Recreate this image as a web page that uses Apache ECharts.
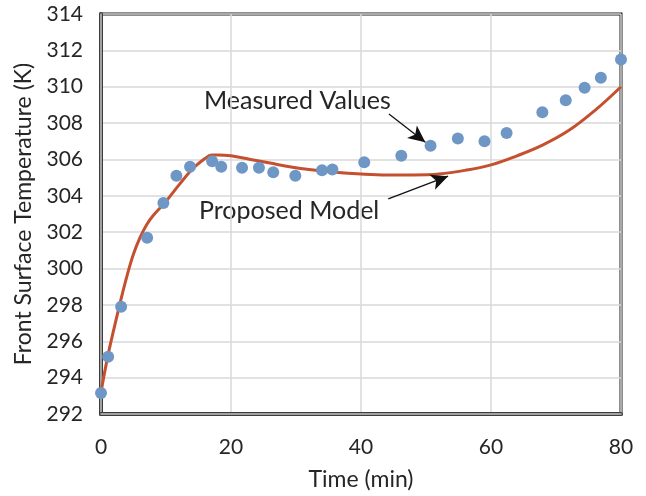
<!DOCTYPE html>
<html>
<head>
<meta charset="utf-8">
<script src="https://cdn.jsdelivr.net/npm/echarts@6/dist/echarts.min.js"></script>
<style>
  html, body { margin: 0; padding: 0; background: #fff; }
  #chart { width: 646px; height: 496px; }
</style>
</head>
<body>
<div id="chart"></div>
<script>
// Measured front-surface temperature (time in min, temperature in K)
const measuredTime = [0, 1.1, 3.1, 7.1, 9.6, 11.6, 13.7, 17.1, 18.5, 21.7, 24.3, 26.5, 29.9, 34.0, 35.6, 40.5, 46.2, 50.7, 54.9, 59.0, 62.4, 67.9, 71.5, 74.4, 76.9, 80];
const measuredTemp = [293.15, 295.15, 297.9, 301.7, 303.6, 305.1, 305.6, 305.9, 305.6, 305.55, 305.55, 305.3, 305.1, 305.4, 305.45, 305.85, 306.2, 306.75, 307.15, 307.0, 307.45, 308.6, 309.25, 309.95, 310.5, 311.5];

// Proposed model curve
const modelTime = [0, 1, 2, 3, 4, 5, 6, 7, 8, 10, 12, 14, 16, 17, 18, 20, 23, 26, 29, 32, 36, 40, 44, 48, 52, 56, 60, 64, 68, 72, 76, 80];
const modelTemp = [293.2, 295.1, 296.7, 298.2, 299.6, 300.8, 301.7, 302.4, 302.9, 303.7, 304.6, 305.45, 306.05, 306.25, 306.25, 306.2, 306.0, 305.8, 305.6, 305.45, 305.3, 305.2, 305.15, 305.15, 305.2, 305.4, 305.7, 306.2, 306.8, 307.6, 308.7, 310.0];

// Axis ticks
const xTicks = [0, 20, 40, 60, 80];
const yTicks = [292, 294, 296, 298, 300, 302, 304, 306, 308, 310, 312, 314];

// Callout arrows: [start, end] in data coordinates
const measuredArrow = [[44.3, 308.5], [49.9, 306.95]];
const modelArrow = [[44.2, 303.83], [53.4, 305.08]];

const FONT = 'Lato, "Open Sans", sans-serif';
const TXT = '#262626';

const chart = echarts.init(document.getElementById('chart'), null, { renderer: 'canvas' });

const xBase = {
  type: 'value', min: xTicks[0], max: xTicks[xTicks.length - 1], interval: 20,
  gridIndex: 0
};
const yBase = {
  type: 'value', min: yTicks[0], max: yTicks[yTicks.length - 1], interval: 2,
  gridIndex: 0
};

chart.setOption({
  animation: false,
  textStyle: { fontFamily: FONT },
  grid: {
    left: 101, top: 14, right: 25, bottom: 82,
    show: true, borderColor: '#1e1e1e', borderWidth: 3, backgroundColor: 'transparent'
  },
  xAxis: [
    Object.assign({}, xBase, {
      name: 'Time (min)', nameLocation: 'middle', nameGap: 54,
      nameTextStyle: { fontFamily: FONT, fontSize: 23, color: TXT },
      axisLine: { show: true, onZero: false, lineStyle: { color: '#3c3c3c', width: 4 } },
      axisTick: { show: false },
      axisLabel: { fontFamily: FONT, fontSize: 21, color: TXT, margin: 23 },
      splitLine: { show: true, lineStyle: { color: '#d9d9d9', width: 1.5 } }
    }),
    Object.assign({}, xBase, {
      position: 'bottom', offset: 0,
      axisLine: { show: true, onZero: false, lineStyle: { color: '#c4c4c4', width: 1.5 } },
      axisTick: { show: false }, axisLabel: { show: false }, splitLine: { show: false }
    })
  ],
  yAxis: [
    Object.assign({}, yBase, {
      name: 'Front Surface Temperature (K)', nameLocation: 'middle', nameGap: 64,
      nameTextStyle: { fontFamily: FONT, fontSize: 23, color: TXT },
      axisLine: { show: true, onZero: false, lineStyle: { color: '#3c3c3c', width: 4 } },
      axisTick: { show: false },
      axisLabel: { fontFamily: FONT, fontSize: 21, color: TXT, margin: 18 },
      splitLine: { show: true, lineStyle: { color: '#d9d9d9', width: 1.5 } }
    }),
    Object.assign({}, yBase, {
      position: 'left', offset: 0,
      axisLine: { show: true, onZero: false, lineStyle: { color: '#c4c4c4', width: 1.5 } },
      axisTick: { show: false }, axisLabel: { show: false }, splitLine: { show: false }
    })
  ],
  graphic: [
    { type: 'text', left: 204, top: 88, style: { text: 'Measured Values', font: '25px ' + FONT, fill: TXT } },
    { type: 'text', left: 199, top: 198, style: { text: 'Proposed Model', font: '25px ' + FONT, fill: TXT } }
  ],
  series: [
    {
      name: 'Proposed Model', type: 'line', xAxisIndex: 0, yAxisIndex: 0,
      data: modelTime.map((t, i) => [t, modelTemp[i]]),
      smooth: 0.4, showSymbol: false, clip: false,
      lineStyle: { color: '#c4502f', width: 3 },
      z: 3
    },
    {
      name: 'Measured Values', type: 'scatter', xAxisIndex: 0, yAxisIndex: 0,
      data: measuredTime.map((t, i) => [t, measuredTemp[i]]),
      symbolSize: 12, clip: false,
      itemStyle: { color: '#6f97c6', opacity: 1 },
      z: 4,
      markLine: {
        silent: true, animation: false,
        lineStyle: { color: '#111', width: 1.3, type: 'solid' },
        label: { show: false },
        symbol: ['none', 'arrow'], symbolSize: [12, 17],
        data: [
          [{ coord: measuredArrow[0] }, { coord: measuredArrow[1] }],
          [{ coord: modelArrow[0] }, { coord: modelArrow[1] }]
        ]
      }
    }
  ]
});
</script>
</body>
</html>
